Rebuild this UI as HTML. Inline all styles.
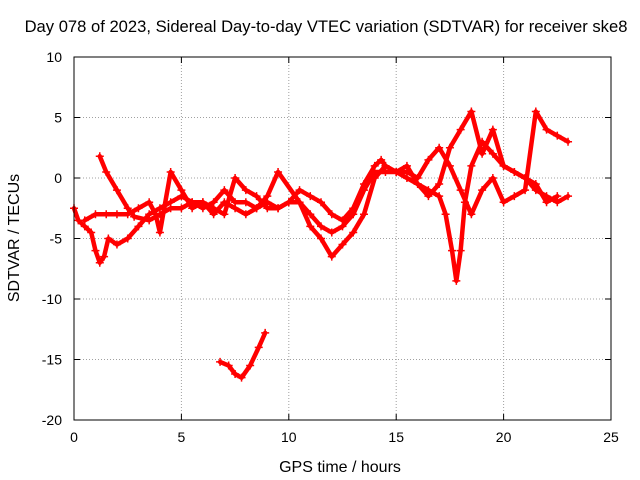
<!DOCTYPE html>
<html><head><meta charset="utf-8"><style>
body{margin:0;background:#fff;}
svg{display:block;font-family:"Liberation Sans",sans-serif;}
</style></head><body>
<svg id="chart" width="640" height="480">
<rect x="0" y="0" width="640" height="480" fill="#fff"/>
<text x="326" y="32" font-size="16.6" text-anchor="middle">Day 078 of 2023, Sidereal Day-to-day VTEC variation (SDTVAR) for receiver ske8</text>
<text x="340" y="472" font-size="16" text-anchor="middle">GPS time / hours</text>
<text transform="translate(19,238) rotate(-90)" font-size="16" text-anchor="middle">SDTVAR / TECUs</text>
<g id="grid"></g><g id="ticks"></g><g id="series"></g>
<rect x="74" y="57" width="537" height="363" fill="none" stroke="#000" stroke-width="1"/>
</svg>
<script>
const xTicks=[0,5,10,15,20,25];
const yTicks=[10,5,0,-5,-10,-15,-20];
const track1=[[0,-2.5],[0.2,-3.5],[0.5,-4],[0.8,-4.5],[1,-6],[1.2,-7],[1.4,-6.5],[1.6,-5],[2,-5.5],[2.5,-5],[3,-4],[3.5,-3],[4,-2.5],[4.5,-2],[5,-1.5],[5.5,-2],[6,-2.5],[6.5,-2],[7,-1],[7.5,-2],[8,-2],[8.5,-2.5],[9,-2],[9.5,-2.5],[10,-2],[10.5,-1],[11,-1.5],[11.5,-2],[12,-3],[12.5,-3.5],[13,-2.5],[13.5,-0.5],[14,1],[14.3,1.5],[14.5,1],[15,0.5],[15.5,0],[16,-0.5],[16.5,-1],[17,-1.5],[17.3,-3],[17.6,-6],[17.8,-8.5],[18,-6],[18.2,-2],[18.5,1],[19,3],[19.5,2],[20,1],[20.5,0.5],[21,0],[21.5,-1],[22,-1.5],[22.5,-2],[23,-1.5]];
const track2=[[1.2,1.8],[1.5,0.5],[2,-1],[2.5,-2.5],[2.8,-3.2],[3.5,-3.5],[4,-3],[4.5,-2.5],[5,-2.5],[5.5,-2],[6,-2],[6.5,-2.5],[7,-3],[7.5,0],[8,-1],[8.5,-1.5],[9,-2.5],[9.5,-2.5],[10,-2],[10.5,-2],[11,-3],[11.5,-4],[12,-4.5],[12.5,-4],[13,-3],[13.5,-1],[14,0.5],[14.5,0.5],[15,0.5],[15.5,0.5],[16,0],[16.5,1.5],[17,2.5],[17.5,1],[18,-1],[18.5,-3],[19,-1],[19.5,0],[20,-2],[20.5,-1.5],[21,-1],[21.5,5.5],[22,4],[22.5,3.5],[23,3]];
const track3=[[0.5,-3.5],[1,-3],[1.5,-3],[2,-3],[2.5,-3],[3,-2.5],[3.5,-2],[3.8,-3],[4,-4.5],[4.5,0.5],[5,-1],[5.5,-2.5],[6,-2],[6.5,-3],[7,-2],[7.5,-2.5],[8,-3],[8.5,-2.5],[9,-1.5],[9.5,0.5],[10.5,-2],[11,-4],[11.5,-5],[12,-6.5],[12.5,-5.5],[13,-4.5],[13.5,-3],[14,0],[14.5,1],[15,0.5],[15.5,1],[16,-0.5],[16.5,-1.5],[17,-0.5],[17.5,2.5],[18,4],[18.5,5.5],[19,2],[19.5,4],[20,1],[20.5,0.5],[21,0],[21.5,-0.5],[22,-2],[22.5,-1.5]];
const track4=[[6.8,-15.2],[7.2,-15.5],[7.5,-16.2],[7.8,-16.5],[8.2,-15.5],[8.6,-14],[8.9,-12.8]];
const NS="http://www.w3.org/2000/svg";
const X0=74,X1=611,Y0=420,Y1=57;
function xs(v){return X0+(v-0)/(25-0)*(X1-X0);}
function ys(v){return Y0-(v+20)/(30)*(Y0-Y1);}
function mk(t,a){const e=document.createElementNS(NS,t);for(const k in a)e.setAttribute(k,a[k]);return e;}
const grid=document.getElementById('grid'),ticks=document.getElementById('ticks'),series=document.getElementById('series');
xTicks.forEach(t=>{const x=xs(t);
 if(t>0&&t<25){const g=mk('line',{x1:x,x2:x,y1:Y0,y2:Y1,stroke:'#a0a0a0','stroke-dasharray':'1,2'});
 
 grid.appendChild(g);}
 ticks.appendChild(mk('line',{x1:x,x2:x,y1:Y0,y2:Y0-6,stroke:'#000'}));
 ticks.appendChild(mk('line',{x1:x,x2:x,y1:Y1,y2:Y1+6,stroke:'#000'}));
 const l=mk('text',{x:x,y:Y0+22,'font-size':14,'text-anchor':'middle'});l.textContent=t;
 
 ticks.appendChild(l);});
yTicks.forEach(t=>{const y=ys(t);
 if(t>-20&&t<10){const g=mk('line',{x1:X0,x2:X1,y1:y,y2:y,stroke:'#a0a0a0','stroke-dasharray':'1,2'});
 
 grid.appendChild(g);}
 ticks.appendChild(mk('line',{x1:X0,x2:X0+6,y1:y,y2:y,stroke:'#000'}));
 ticks.appendChild(mk('line',{x1:X1,x2:X1-6,y1:y,y2:y,stroke:'#000'}));
 const l=mk('text',{x:X0-12,y:y+5,'font-size':14,'text-anchor':'end'});l.textContent=t;
 
 ticks.appendChild(l);});
[track1,track2,track3,track4].forEach((tr,i)=>{
 const p=mk('polyline',{points:tr.map(d=>xs(d[0])+','+ys(d[1])).join(' '),fill:'none',stroke:'#f00','stroke-width':4.5,'stroke-linejoin':'round','stroke-linecap':'round'});
 
 series.appendChild(p);
 tr.forEach(d=>{const x=xs(d[0]),y=ys(d[1]);
  const m=mk('path',{d:`M${x-4},${y}H${x+4}M${x},${y-4}V${y+4}`,stroke:'#f00','stroke-width':1.5});
  
  series.appendChild(m);});
});
</script>
</body></html>
